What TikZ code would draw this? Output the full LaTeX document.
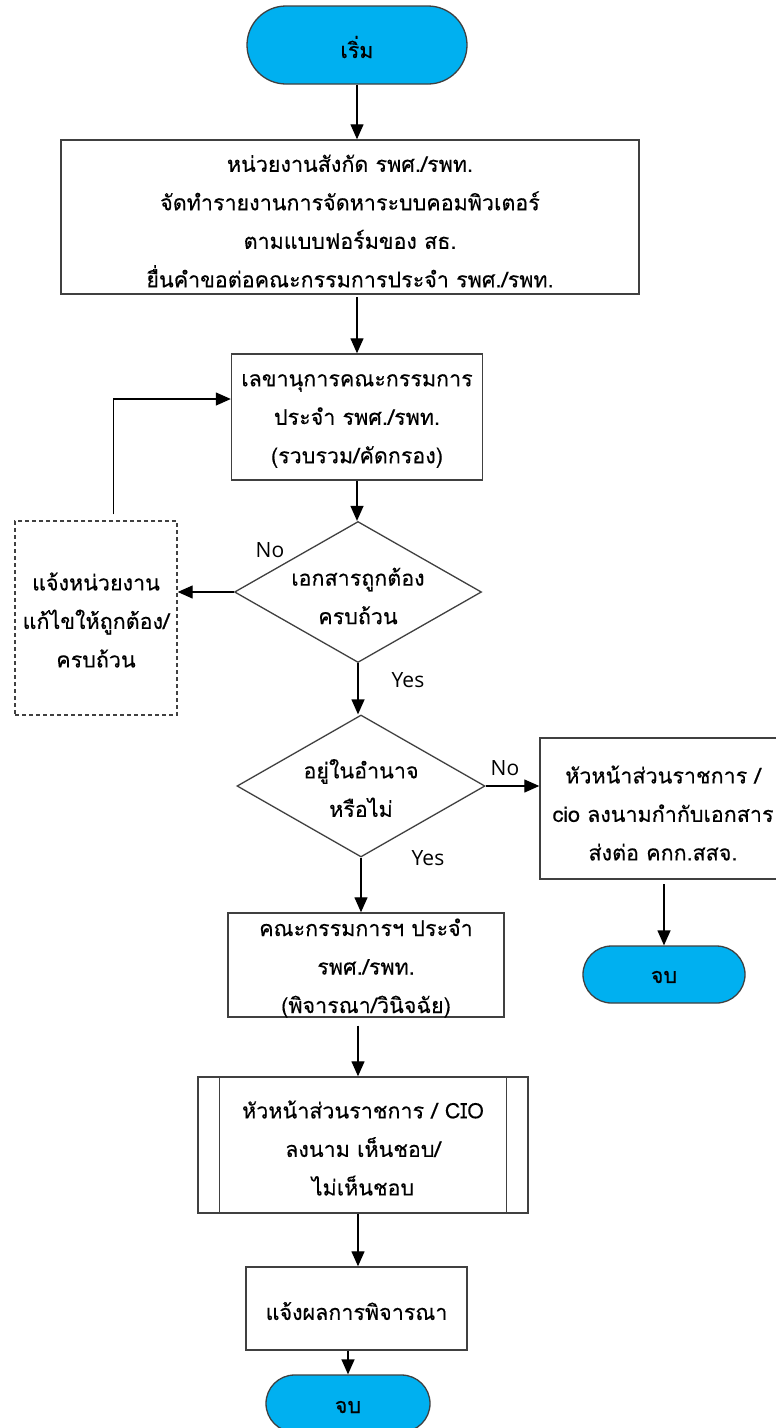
\documentclass[tikz,border=0pt]{standalone}
\usepackage{fontspec}
\setmainfont{Loma}[Script=Thai,FakeBold=0.3]
\newfontfamily\latinfont{Open Sans}
\usetikzlibrary{shapes.geometric,shapes.misc,arrows.meta,calc}
\definecolor{termblue}{HTML}{00B0F0}
\definecolor{edgegray}{HTML}{404040}
\begin{document}
\begin{tikzpicture}[x=1pt,y=-1pt,
  boxwh/.style 2 args={draw=edgegray,line width=1.4pt,inner sep=0pt,minimum width=#1,minimum height=#2},
  termwh/.style 2 args={rounded rectangle,draw=edgegray,fill=termblue,line width=1.3pt,inner sep=0pt,minimum width=#1,minimum height=#2},
  decwh/.style 2 args={diamond,draw=edgegray,line width=1.3pt,inner sep=0pt,minimum width=#1,minimum height=#2},
  txt/.style={align=center,inner sep=0pt,font=\fontsize{21.5}{38.5}\selectfont},
  lbl/.style={inner sep=0pt,font=\latinfont\fontsize{21}{24}\selectfont},
  arr/.style={-{Triangle[length=15pt,width=13pt]},line width=1.3pt,black}]
\useasboundingbox (0,0) rectangle (776,1428);
\clip (0,0) rectangle (776,1428);
\fill[white] (0,0) rectangle (776,1428);

% start
\node[termwh={220pt}{78pt}] (st) at (357,45) {};
\node[txt] (stt) at (357,47) {เริ่ม};

% box 1
\node[boxwh={578pt}{154pt}] (b1) at (350,217) {};
\node[txt] (b1t) at (350,221) {หน่วยงานสังกัด รพศ./รพท.\\จัดทำรายงานการจัดหาระบบคอมพิวเตอร์\\ตามแบบฟอร์มของ สธ.\\ยื่นคำขอต่อคณะกรรมการประจำ รพศ./รพท.};

% box 2
\node[boxwh={251pt}{126pt}] (b2) at (357,417) {};
\node[txt] (b2t) at (357,421) {เลขานุการคณะกรรมการ\\ประจำ รพศ./รพท.\\(รวบรวม/คัดกรอง)};

% decision 1
\node[decwh={247pt}{141pt}] (d1) at (358,592) {};
\node[txt] (d1t) at (358,596) {เอกสารถูกต้อง\\ครบถ้วน};

% dashed box
\node[boxwh={162pt}{194pt},dash pattern=on 4pt off 3pt] (dsh) at (96,618) {};
\node[txt] (dsht) at (96,620) {แจ้งหน่วยงาน\\แก้ไขให้ถูกต้อง/\\ครบถ้วน};

% decision 2
\node[decwh={248pt}{142pt}] (d2) at (361,786) {};
\node[txt] (d2t) at (361,788) {อยู่ในอำนาจ\\หรือไม่};

% right box
\node[boxwh={246pt}{141pt}] (rb) at (663,808.5) {};
\node[txt] (rbt) at (663,813) {หัวหน้าส่วนราชการ /\\cio ลงนามกำกับเอกสาร\\ส่งต่อ คกก.สสจ.};

% end right
\node[termwh={162pt}{57pt}] (e1) at (664,974.5) {};
\node[txt] (e1t) at (664,977) {จบ};

% box 3
\node[boxwh={276pt}{104pt}] (b3) at (366,965) {};
\node[txt] (b3t) at (366,968) {คณะกรรมการฯ ประจำ\\รพศ./รพท.\\(พิจารณา/วินิจฉัย)};

% box 4 predefined process
\node[boxwh={330pt}{136pt}] (b4) at (363,1145) {};
\draw[draw=edgegray,line width=1.4pt] ($(b4.north west)+(22,0)$) -- ($(b4.south west)+(22,0)$);
\draw[draw=edgegray,line width=1.4pt] ($(b4.north east)+(-22,0)$) -- ($(b4.south east)+(-22,0)$);
\node[txt] (b4t) at (363,1148) {หัวหน้าส่วนราชการ / CIO\\ลงนาม เห็นชอบ/\\ไม่เห็นชอบ};

% box 5
\node[boxwh={221pt}{83pt}] (b5) at (356.5,1308.5) {};
\node[txt] (b5t) at (356.5,1311) {แจ้งผลการพิจารณา};

% end bottom
\node[termwh={164pt}{57pt}] (e2) at (348,1403.5) {};
\node[txt] (e2t) at (348,1407) {จบ};

% connector helper points
\coordinate (c3a) at ($(b3.south)+(-8,8)$);
\coordinate (c4a) at ($(b4.south)+(-5,0)$);
\coordinate (dtop) at ($(dsh.north west)+(99,-6)$);
\coordinate (b2in) at ($(b2.west)+(0,-18)$);
\coordinate (rbs) at ($(e1.north)+(0,-61)$);
\coordinate (b1s) at ($(b2.north)+(0,-56)$);

% connectors
\draw[arr] (st.south) -- (st.south |- b1.north);
\draw[arr] (b1s) -- (b2.north);
\draw[arr] (b2.south) -- (b2.south |- d1.north);
\draw[arr] (d1.west) -- (d1.west -| dsh.east);
\draw[arr] (dtop) |- (b2in);
\draw[arr] (d1.south) -- (d1.south |- d2.north);
\draw[arr] (d2.east) -- (d2.east -| rb.west);
\draw[arr] (rbs) -- (e1.north);
\draw[arr] (d2.south) -- (d2.south |- b3.north);
\draw[arr] (c3a) -- (c3a |- b4.north);
\draw[arr] (c4a) -- (c4a |- b5.north);
\draw[arr] (b5.south -| e2.north) -- (e2.north);

% labels
\node[lbl] (no1) at (270,550) {No};
\node[lbl] (yes1) at (408,680) {Yes};
\node[lbl] (no2) at (505,768) {No};
\node[lbl] (yes2) at (428,858) {Yes};
\end{tikzpicture}
\end{document}
